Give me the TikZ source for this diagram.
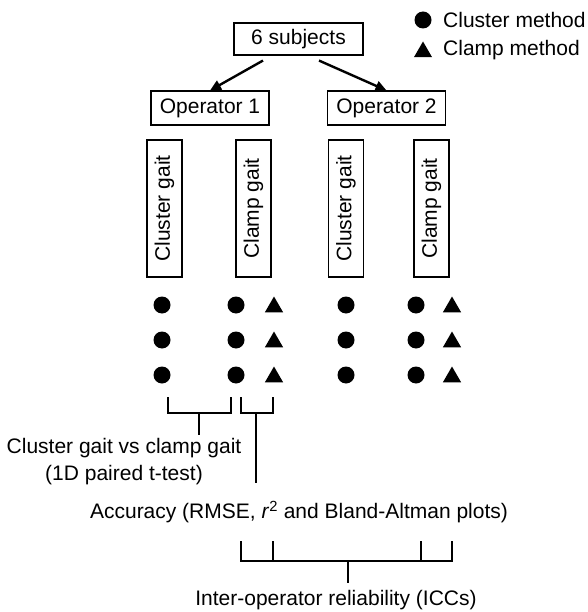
\documentclass[tikz,border=0pt]{standalone}
\usepackage{fontspec}
\setmainfont{Liberation Sans}
\usetikzlibrary{arrows.meta,shapes.geometric}

\begin{document}
\begin{tikzpicture}
			[x=1pt,y=-1pt,
			%Styles
			every node/.style={font=\fontsize{21pt}{27pt}\selectfont},
			box/.style={draw,line width=1.1pt,inner sep=0pt},
			gait/.style={box,rotate=90,minimum width=137pt,minimum height=35pt},
			operator/.style={box,minimum width=118pt,minimum height=34pt},
			arrow/.style={line width=2.4pt,-{Triangle[length=11pt,width=10pt]}},
			bracket/.style={line width=2.8pt},
			dot/.style={circle,fill,inner sep=0pt,minimum size=17pt},
			tri/.style={regular polygon,regular polygon sides=3,fill,inner sep=0pt,minimum size=21pt},
			legend/.style={anchor=west,inner sep=0pt}
			]
			
			\useasboundingbox (0,0) rectangle (587,612);
			
			%The graphic
			\node[box,minimum width=129pt,minimum height=32pt] (subj) at (298.5,39) {6 subjects};
			\node[operator] (op1) at (210,108) {Operator 1};
			\node[operator] (op2) at (386.5,108) {Operator 2};
			
			\draw[arrow] ([xshift=-35.5pt,yshift=-5pt]subj.south) -- (op1.north);
			\draw[arrow] ([xshift=20.5pt,yshift=-5pt]subj.south) -- (op2.north);
			
			%Legend
			\node[dot] (ldot) at (423,20) {};
			\node[tri] (ltri) at (423,52) {};
			\node[legend] (lclu) at (443,20) {Cluster method};
			\node[legend] (lcla) at (443,50) {Clamp method};
			
			\node[gait] (g1) at (164.5,208.5) {Cluster gait};
			\node[gait] (g2) at (253.5,208.5) {Clamp gait};
			\node[gait] (g3) at (346,208.5) {Cluster gait};
			\node[gait] (g4) at (431.5,208.5) {Clamp gait};
			
			\foreach \r [count=\i] in {305,340,375}{
				\node[dot] (c1\i) at (162,\r) {};
				\node[dot] (c2\i) at (236,\r) {};
				\node[tri] (t2\i) at (274,\r+2) {};
				\node[dot] (c3\i) at (346,\r) {};
				\node[dot] (c4\i) at (416,\r) {};
				\node[tri] (t4\i) at (452,\r+2) {};
			}
			
			%Comparisons
			\node[align=center] (vs) at (124,461.5) {Cluster gait vs clamp gait\\(1D paired t-test)};
			\node (acc) at (299,512) {Accuracy (RMSE, \textit{r}\textsuperscript{2} and Bland-Altman plots)};
			\node (icc) at (336,600) {Inter-operator reliability (ICCs)};
			
			\coordinate (vsend) at (199,435);
			\coordinate (accend) at (256,483);
			\coordinate (iccend) at (348,583);
			
			\draw[bracket] (168,397) |- (231,413) -- (231,397);
			\draw[bracket] (199,413) -- (vsend);
			\draw[bracket] (241,397) |- (273,413) -- (273,397);
			\draw[bracket] (256,413) -- (accend);
			\draw[bracket] (241,541) |- (452,561) -- (452,541);
			\draw[bracket] (273,541) -- (273,561);
			\draw[bracket] (421,541) -- (421,561);
			\draw[bracket] (348,561) -- (iccend);
		\end{tikzpicture}
\end{document}
